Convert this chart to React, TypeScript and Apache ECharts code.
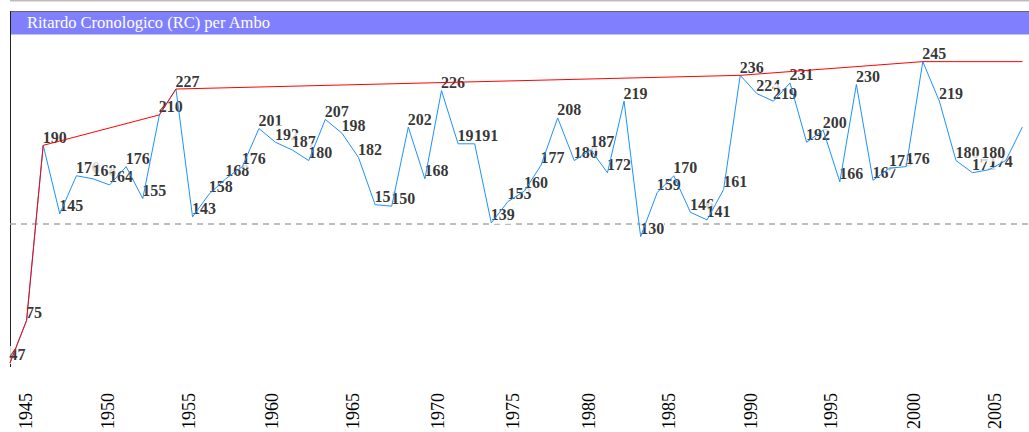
import React, { useEffect, useRef } from "react";
import * as echarts from "echarts";

// Ritardo cronologico values, one per point (left to right)
const rcValues: number[] = [
  47, 75, 190, 145, 170, 168, 164, 176, 155, 210,
  227, 143, 158, 168, 176, 201, 192, 187, 180, 207,
  198, 182, 151, 150, 202, 168, 226, 191, 191, 139,
  153, 160, 177, 208, 180, 187, 172, 219, 130, 159,
  170, 146, 141, 161, 236, 224, 219, 231, 192, 200,
  166, 230, 167, 175, 176, 245, 219, 180, 172, 174,
  180, 202,
];

// Year tick labels and where they fall along the point sequence
const yearLabels: string[] = [
  "1945", "1950", "1955", "1960", "1965", "1970", "1975",
  "1980", "1985", "1990", "1995", "2000", "2005",
];
const yearTickAt: number[] = [
  0.95, 5.88, 10.77, 15.78, 20.69, 25.8, 30.31,
  34.88, 39.69, 44.62, 49.49, 54.47, 59.38,
];

// Reference (dashed) level
const rcReference = 138.4;

const titleText = "Ritardo Cronologico (RC) per Ambo";

export default function App() {
  const ref = useRef<HTMLDivElement>(null);

  useEffect(() => {
    if (!ref.current) return;
    const chart = echarts.init(ref.current, undefined, { renderer: "svg" });

    const n = rcValues.length;
    const pts = rcValues.map((v, i) => [i, v]);
    // running-maximum envelope
    const envelope: number[][] = [];
    let mx = -Infinity;
    rcValues.forEach((v, i) => {
      if (v > mx) {
        mx = v;
        envelope.push([i, v]);
      }
    });
    envelope.push([n - 1, mx]);

    const labelData = rcValues.map((v, i) => {
      if (i === n - 1) return { value: [i, v], label: { show: false } };
      if (i === n - 2) return { value: [i, v], label: { align: "right" } };
      return { value: [i, v] };
    });

    const serif = "'Liberation Serif', 'Times New Roman', serif";

    chart.setOption({
      animation: false,
      backgroundColor: "#ffffff",
      grid: { left: 10, top: 35, width: 1021, height: 333, containLabel: false },
      xAxis: {
        type: "value",
        min: 0,
        max: 61.4,
        axisLine: { show: false },
        axisTick: { show: false },
        splitLine: { show: false },
        axisLabel: {
          customValues: yearTickAt,
          rotate: 90,
          margin: 27,
          fontSize: 18,
          fontFamily: serif,
          color: "#000",
          formatter: (v: number) => {
            const k = yearTickAt.findIndex((t) => Math.abs(t - v) < 1e-6);
            return k >= 0 ? yearLabels[k] : "";
          },
        },
      },
      yAxis: {
        type: "value",
        min: 45,
        max: 262.5,
        axisLine: { show: false },
        axisTick: { show: false },
        axisLabel: { show: false },
        splitLine: { show: false },
      },
      graphic: [
        {
          type: "line",
          z: 0,
          shape: { x1: 10, y1: 0.75, x2: 1029, y2: 0.75 },
          style: { stroke: "#bdbdbd", lineWidth: 1.5 },
        },
        {
          type: "rect",
          z: 0,
          shape: { x: 11, y: 12, width: 1018, height: 22.5 },
          style: { fill: "#8080ff" },
        },
        {
          type: "line",
          z: 0,
          shape: { x1: 10, y1: 11.5, x2: 1029, y2: 11.5 },
          style: { stroke: "#666666", lineWidth: 1 },
        },
        {
          type: "line",
          z: 0,
          shape: { x1: 10.5, y1: 11, x2: 10.5, y2: 367 },
          style: { stroke: "#222222", lineWidth: 1 },
        },
        {
          type: "text",
          z: 1,
          style: {
            text: titleText,
            x: 27,
            y: 22.6,
            fill: "#ffffff",
            fontSize: 16.5,
            fontFamily: serif,
            align: "left",
            verticalAlign: "middle",
          },
        },
      ],
      series: [
        {
          type: "scatter",
          z: 2,
          symbol: "circle",
          symbolSize: 1,
          itemStyle: { color: "rgba(0,0,0,0)" },
          data: labelData,
          silent: true,
          label: {
            show: true,
            position: [0, 0],
            align: "left",
            verticalAlign: "bottom",
            offset: [0, 1.5],
            formatter: (p: any) => String(p.value[1]),
            fontSize: 16,
            fontWeight: "bold",
            fontFamily: serif,
            color: "#000",
            backgroundColor: "#ffffff",
            lineHeight: 18,
            padding: [0, 0, 0, 0],
          },
          markLine: {
            silent: true,
            symbol: "none",
            label: { show: false },
            lineStyle: { color: "#a9a9a9", type: [6, 5], width: 1.5 },
            data: [{ yAxis: rcReference }],
            z: 1,
          },
        },
        {
          type: "line",
          z: 3,
          data: pts,
          symbol: "none",
          lineStyle: { color: "#1e90ff", width: 1 },
          silent: true,
        },
        {
          type: "line",
          z: 4,
          data: envelope,
          symbol: "none",
          lineStyle: { color: "#ff0000", width: 1 },
          silent: true,
        },
      ],
    });

    return () => chart.dispose();
  }, []);

  return (
    <div
      ref={ref}
      style={{ position: "absolute", left: 0, top: 0, width: 1029, height: 432 }}
    />
  );
}
